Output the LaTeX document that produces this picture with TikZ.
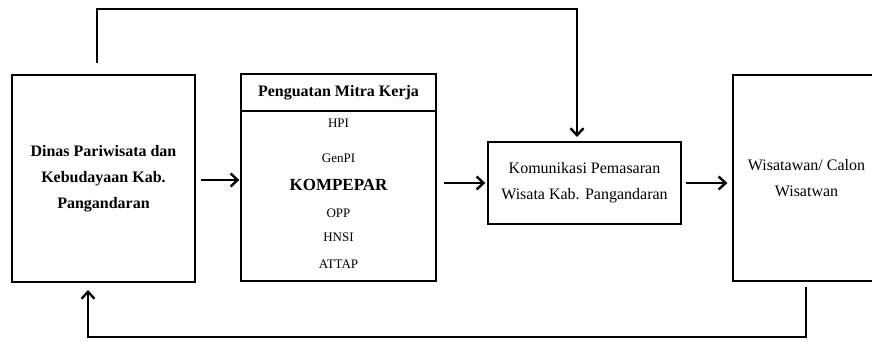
\documentclass[tikz,border=0pt]{standalone}
\usepackage{fontspec}
\setmainfont{Liberation Serif}
\usetikzlibrary{arrows.meta}

\begin{document}
\begin{tikzpicture}[x=1pt,y=-1pt,
  box/.style={draw,line width=1.3pt,inner sep=0pt,align=center},
  conn/.style={line width=2.4pt,-{Straight Barb[length=7pt,width=13pt]}},
  big/.style={font=\fontsize{16}{26}\selectfont},
  item/.style={font=\fontsize{13}{15}\selectfont,inner sep=0pt}]
 \useasboundingbox (0,0) rectangle (872,341);
 \clip (0,0) rectangle (872,341);
 % boxes
 \node[box,font=\fontsize{16}{26}\selectfont\bfseries,minimum width=183pt,minimum height=207pt] (dinas) at (103.5,178.5) {Dinas Pariwisata dan\\Kebudayaan Kab.\\Pangandaran};
 \node[box,minimum width=195pt,minimum height=207pt] (mitra) at (338.5,177.5) {};
 \node[box,font=\fontsize{16}{20}\selectfont\bfseries,minimum width=195pt,minimum height=37pt] (head) at (338.5,92.5) {Penguatan Mitra Kerja};
 \node[box,big,minimum width=193pt,minimum height=82pt] (komunikasi) at (584.5,183) {Komunikasi Pemasaran\\Wisata Kab. Pangandaran};
 \node[box,big,minimum width=147pt,minimum height=206pt] (wisatawan) at (806.5,178) {Wisatawan/ Calon\\Wisatwan};
 % isi mitra kerja
 \node[item] (hpi) at (338.5,123) {HPI};
 \node[item] (genpi) at (338.5,158) {GenPI};
 \node[item,font=\fontsize{17}{20}\selectfont\bfseries] (kompepar) at (338.5,185) {KOMPEPAR};
 \node[item] (opp) at (338.5,213) {OPP};
 \node[item] (hnsi) at (338.5,237) {HNSI};
 \node[item] (attap) at (338.5,264) {ATTAP};
 % alur
 \draw[conn,shorten <=5pt,shorten >=1pt] (dinas.east |- 0,180) -- (mitra.west |- 0,180);
 \draw[conn,shorten <=7pt,shorten >=2pt] (mitra.east |- komunikasi.west) -- (komunikasi.west);
 \draw[conn,shorten <=4pt,shorten >=5pt] (komunikasi.east) -- (wisatawan.west |- komunikasi.east);
 \coordinate (atas) at (97,63);
 \draw[conn,shorten >=5pt] (atas) |- (577,9) -- (577,142);
 \coordinate (bawah) at (806,287);
 \draw[conn,shorten >=8pt] (bawah) |- (88,337) -- (88,282);
\end{tikzpicture}
\end{document}
